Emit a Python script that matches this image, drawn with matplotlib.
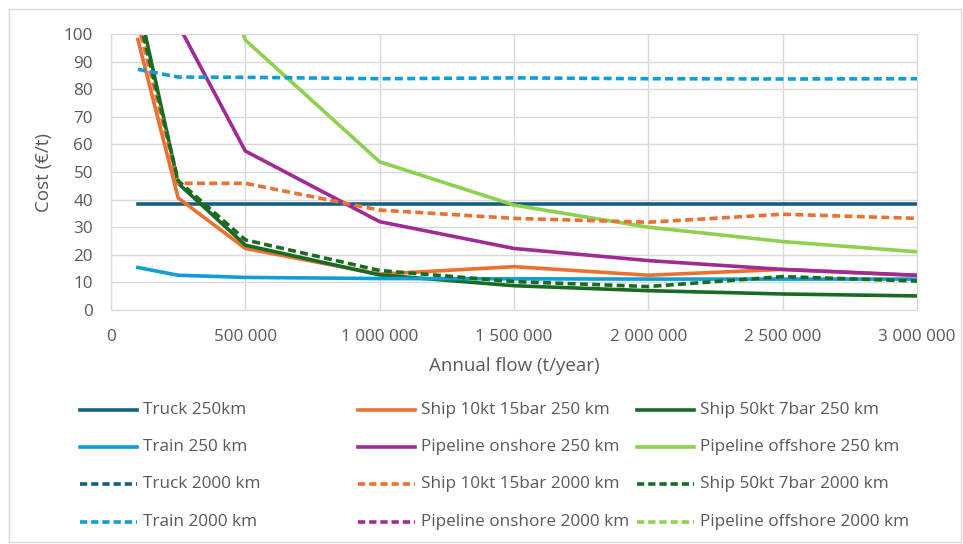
import numpy as np
import matplotlib.pyplot as plt
from matplotlib.patches import Rectangle
from matplotlib.ticker import FuncFormatter, MultipleLocator

plt.rcParams['font.family'] = ['Open Sans', 'DejaVu Sans']

flow = [100000, 250000, 500000, 1000000, 1500000, 2000000, 2500000, 3000000]

truck_250 = [38.4, 38.4, 38.4, 38.4, 38.4, 38.4, 38.4, 38.4]
ship10_250 = [98, 40.6, 22.3, 13.0, 15.7, 12.6, 14.7, 12.5]
ship50_250 = [112, 45.9, 23.5, 12.7, 8.8, 7.0, 5.8, 5.1]
train_250 = [15.4, 12.6, 11.8, 11.4, 11.3, 11.2, 11.2, 11.2]
pipe_on_250 = [200, 103.4, 57.6, 32.0, 22.3, 17.9, 14.7, 12.6]
pipe_off_250 = [400, 171, 97.8, 53.7, 38.0, 30.0, 24.8, 21.1]
truck_2000 = [230, 230, 230, 230, 230, 230, 230, 230]
ship10_2000 = [104, 45.9, 45.9, 36.2, 33.2, 31.8, 34.7, 33.2]
ship50_2000 = [108, 46.8, 25.4, 14.3, 10.3, 8.5, 12.1, 10.5]
train_2000 = [87.2, 84.4, 84.3, 83.8, 84.1, 83.8, 83.7, 83.8]
pipe_on_2000 = [900, 500, 350, 260, 230, 215, 205, 200]
pipe_off_2000 = [1500, 800, 600, 450, 400, 380, 365, 355]

c_truck = '#156082'
c_ship10 = '#E97132'
c_ship50 = '#196B24'
c_train = '#0F9ED5'
c_pon = '#A02B93'
c_poff = '#8ED14F'

series = [
    ('Truck 250km', truck_250, c_truck, '-'),
    ('Ship 10kt 15bar 250 km', ship10_250, c_ship10, '-'),
    ('Ship 50kt 7bar 250 km', ship50_250, c_ship50, '-'),
    ('Train 250 km', train_250, c_train, '-'),
    ('Pipeline onshore 250 km', pipe_on_250, c_pon, '-'),
    ('Pipeline offshore 250 km', pipe_off_250, c_poff, '-'),
    ('Truck 2000 km', truck_2000, c_truck, '--'),
    ('Ship 10kt 15bar 2000 km', ship10_2000, c_ship10, '--'),
    ('Ship 50kt 7bar 2000 km', ship50_2000, c_ship50, '--'),
    ('Train 2000 km', train_2000, c_train, '--'),
    ('Pipeline onshore 2000 km', pipe_on_2000, c_pon, '--'),
    ('Pipeline offshore 2000 km', pipe_off_2000, c_poff, '--'),
]

W, H = 963, 544
fig = plt.figure(figsize=(W / 100, H / 100), dpi=100)
fig.patches.append(Rectangle((9 / W, 1 - 542 / H), 952 / W, 533 / H, transform=fig.transFigure,
                             fill=False, edgecolor='#D9D9D9', linewidth=1))

ax = fig.add_axes([111 / W, 1 - 310 / H, (917 - 111) / W, (310 - 34) / H])

dash = (0, (2.2, 1.2))
handles = []
for name, vals, col, ls in series:
    h, = ax.plot(flow, vals, color=col, lw=2.6, label=name,
                 linestyle=dash if ls == '--' else '-')
    handles.append((h, ls))

ax.set_xlim(0, 3000000)
ax.set_ylim(0, 100)
ax.xaxis.set_major_locator(MultipleLocator(500000))
ax.yaxis.set_major_locator(MultipleLocator(10))
ax.xaxis.set_major_formatter(FuncFormatter(lambda v, p: f'{int(v):,}'.replace(',', ' ')))
ax.grid(True, color='#D9D9D9', lw=1)
ax.set_axisbelow(True)
for s in ax.spines.values():
    s.set_color('#D9D9D9')
ax.tick_params(axis='x', length=0, labelsize=12.3, colors='#595959', pad=14)
ax.tick_params(axis='y', length=0, labelsize=12.3, colors='#595959', pad=13)
ax.set_xlabel('Annual flow (t/year)', fontsize=13.5, color='#595959', labelpad=8)
ax.set_ylabel('Cost (€/t)', fontsize=13.5, color='#595959', labelpad=8)

# legend, row-wise order in 3 columns
col_x = [80, 358, 637]
row_y = [410, 447, 484, 522]
leg_dash = (0, (2.0, 1.1))
for i, (h, ls) in enumerate(handles):
    r, c = divmod(i, 3)
    x0 = col_x[c] / W
    y0 = 1 - row_y[r] / H
    fig.add_artist(plt.Line2D([x0, x0 + 57 / W], [y0, y0], transform=fig.transFigure,
                              color=h.get_color(), lw=2.6,
                              linestyle=leg_dash if ls == '--' else '-'))
    fig.text(x0 + 63 / W, y0, h.get_label(), fontsize=12.3, color='#595959', va='center', ha='left')

fig.savefig('out.png', dpi=100)
